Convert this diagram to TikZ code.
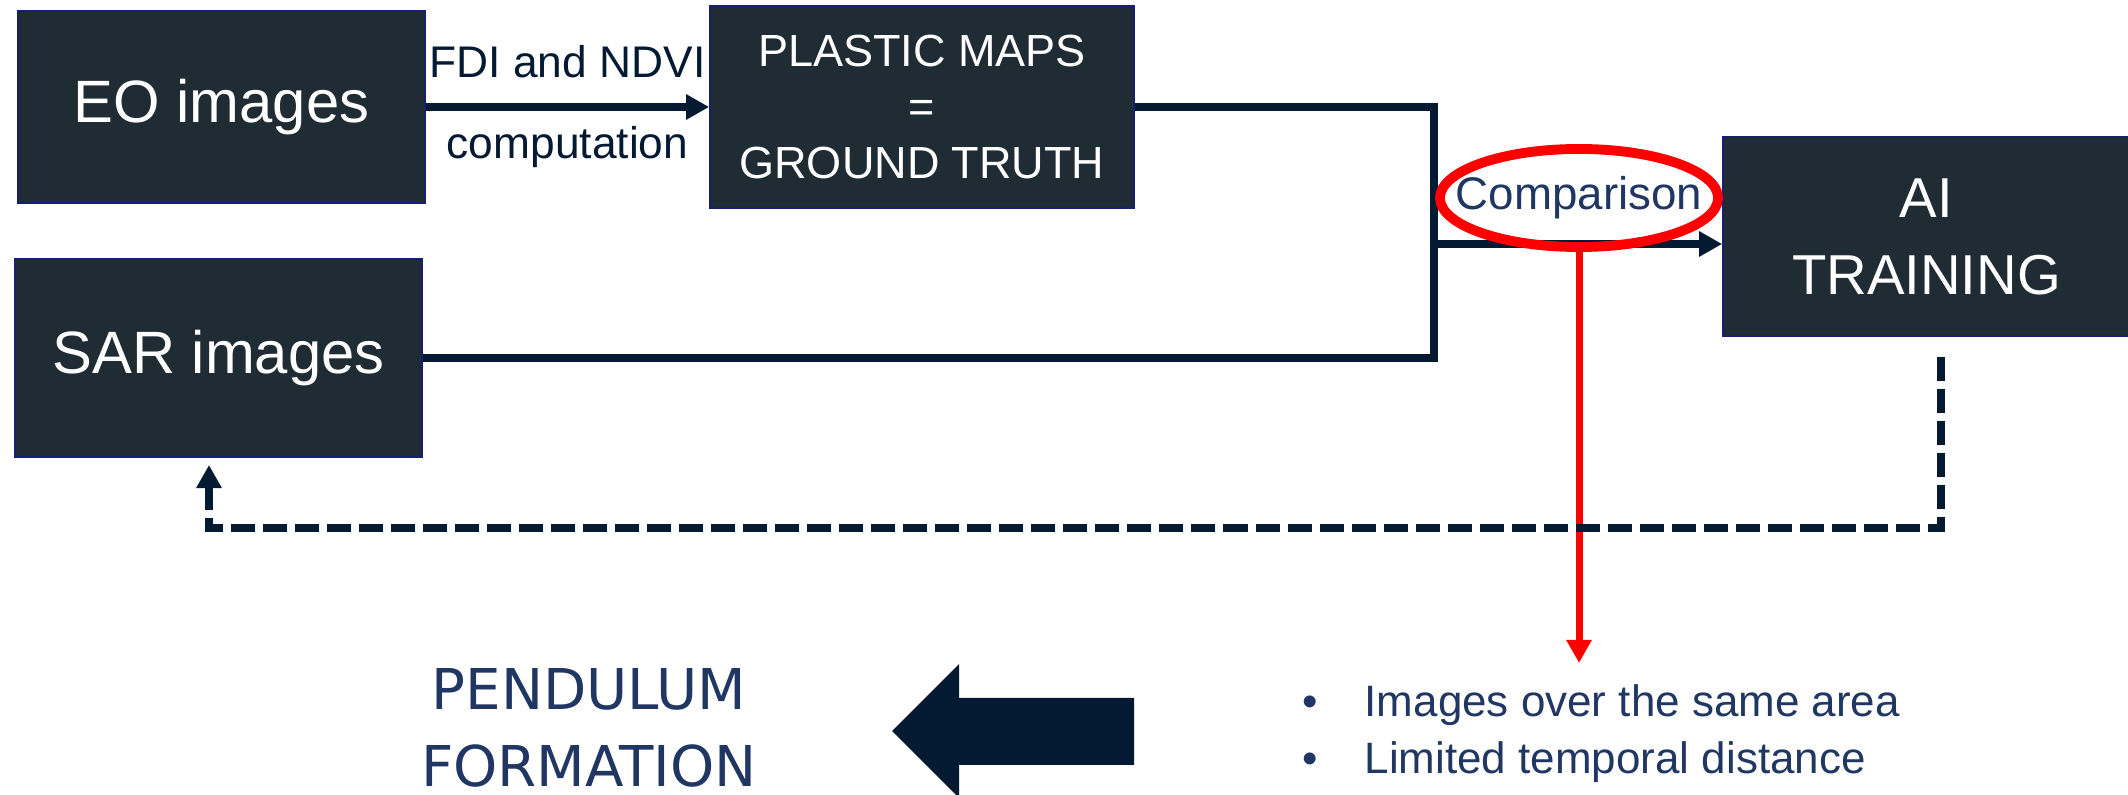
\documentclass[tikz,border=0pt]{standalone}
\usepackage{fontspec}
\setmainfont{Liberation Sans}
\newfontfamily\titlefont{DejaVu Sans}
\usepackage{tikz}
\usetikzlibrary{arrows.meta}
\usetikzlibrary{positioning}
\usetikzlibrary{shapes.geometric}
\definecolor{boxfill}{HTML}{1F2C34}
\definecolor{wirenavy}{HTML}{041A33}
\definecolor{textblue}{HTML}{213763}
\tikzset{box/.style = {fill = boxfill, draw = boxfill!70!blue, line width = 0.4pt,
                       text = white, align = center, inner sep = 0}}
\tikzset{wire/.style = {draw = wirenavy, line width = 2.3pt}}
\tikzset{headed/.style = {-{Triangle[length = 0.23cm, width = 0.24cm]}}}
\tikzset{feedback/.style = {wire, dash pattern = on 0.24cm off 0.08cm}}
\tikzset{redwire/.style = {draw = red, line width = 2pt}}
\tikzset{point/.style = {anchor = base west, inner sep = 0, text = textblue,
                         font = \fontsize{12.5}{15}\selectfont}}

\begin{document}
\begin{tikzpicture}[x = 0.01cm, y = -0.01cm]
      \useasboundingbox (0, 0) rectangle (2128, 795);
      \node (eo) at (221.5, 107) [box, minimum width = 4.07cm, minimum height = 1.92cm,
                                 font = \fontsize{17}{20}\selectfont] {EO images};
      \node (sar) at (218.5, 358) [box, minimum width = 4.07cm, minimum height = 1.98cm,
                                  font = \fontsize{17}{20}\selectfont] {SAR images};
      \node (plastic) at (922, 107) [box, minimum width = 4.24cm, minimum height = 2.02cm,
                                    font = \fontsize{12.8}{15.9}\selectfont]
            {PLASTIC MAPS\\=\\GROUND TRUTH};
      \node (ai) at (1926.5, 236.5) [box, minimum width = 4.07cm, minimum height = 1.99cm,
                                    font = \fontsize{16}{21.9}\selectfont] {AI\\TRAINING};

      \draw [wire, headed] (eo.east) -- (plastic.west)
            node [midway, above = 0.25cm, inner sep = 0, text = wirenavy,
                  font = \fontsize{12.6}{15}\selectfont] {FDI and NDVI}
            node [midway, below = 0.15cm, inner sep = 0, text = wirenavy,
                  font = \fontsize{12.6}{15}\selectfont] {computation};

      \coordinate (knee) at (1434, 244);
      \draw [wire] (plastic.east) -| (knee) |- (sar.east);
      \draw [wire, headed] (knee) -- (knee -| ai.west);

      \node (ring) at (1579, 198) [ellipse, draw = red, line width = 2.8pt, inner sep = 0,
                                  minimum width = 2.78cm, minimum height = 0.98cm] {};
      \node (cmp) at (ring) [text = textblue, font = \fontsize{13}{15}\selectfont] {Comparison};
      \coordinate (hit) at (1579, 663);
      \draw [redwire, headed] (ring.south) -- (hit);

      \coordinate (fbstart) at (1941, 357);
      \coordinate (fbcorner) at (209, 528);
      \coordinate (fbend) at (209, 465);
      \draw [feedback, headed] (fbstart) |- (fbcorner) -- (fbend);

      \fill [wirenavy] (1134, 698) -- (959, 698) -- (959, 664) -- (892, 731)
            -- (959, 798) -- (959, 765) -- (1134, 765) -- cycle;
      \node (pendulum) at (589, 728) [text = textblue, align = center,
                                     font = \titlefont\fontsize{16}{21.9}\selectfont]
            {PENDULUM\\FORMATION};

      \node (area) at (1302, 717) [point] {\makebox[0.62cm][l]{\textbullet}Images over the same area};
      \node (time) at (1302, 774) [point] {\makebox[0.62cm][l]{\textbullet}Limited temporal distance};
\end{tikzpicture}
\end{document}
